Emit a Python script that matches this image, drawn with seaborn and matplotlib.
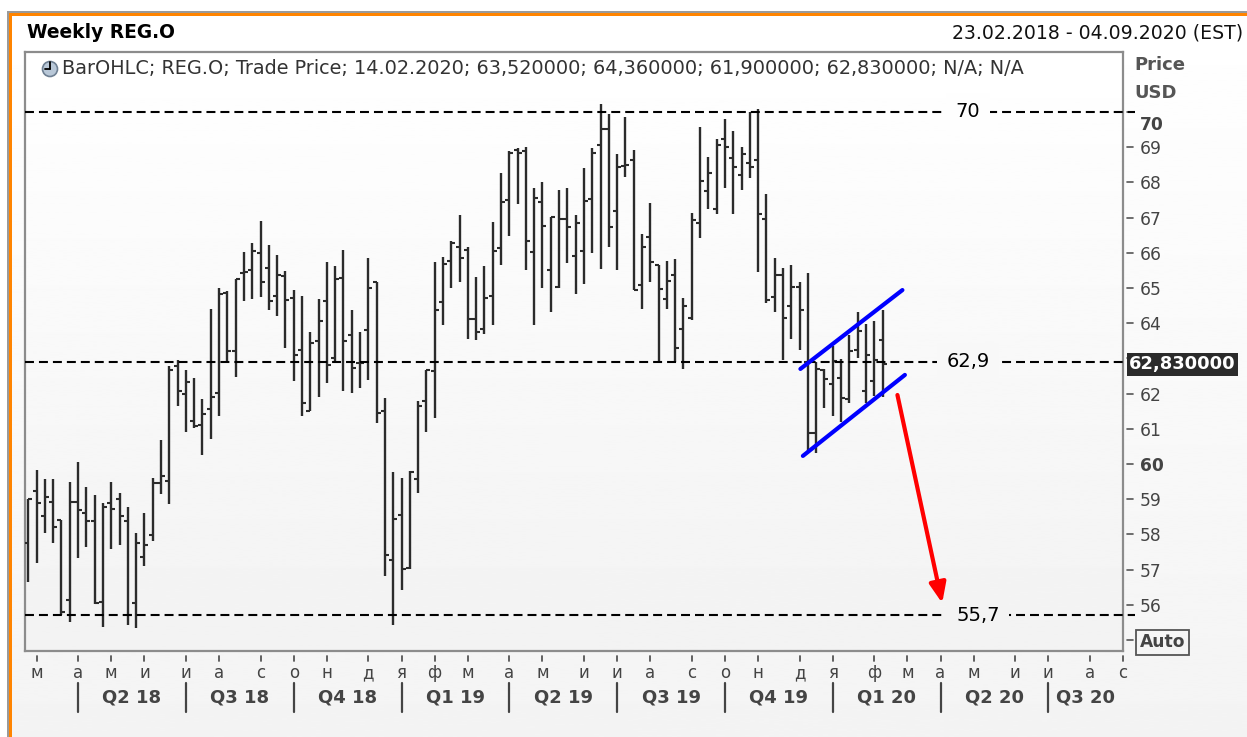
import numpy as np
import pandas as pd
import matplotlib
matplotlib.use("Agg")
import matplotlib.pyplot as plt
import matplotlib.transforms as mtransforms
from matplotlib.patches import Rectangle, Circle
from matplotlib.lines import Line2D
import seaborn as sns

# weekly OHLC for REG.O, 23.02.2018 .. 14.02.2020
start_date = "2018-02-23"
end_date = "2020-09-04"

opens = [57.77, 59.22, 58.51, 58.93, 58.41, 56.14, 58.93, 58.62, 58.39, 56.09,
         58.89, 59.00, 58.39, 56.04, 57.37, 57.99, 59.47, 59.53, 62.77, 61.99,
         61.21, 61.11, 61.56, 62.01, 64.87, 63.20, 65.42, 65.51, 65.99, 65.56,
         64.76, 65.34, 64.71, 63.24, 61.51, 63.49, 64.63, 63.00, 65.29, 63.65,
         62.87, 63.80, 65.18, 61.51, 57.28, 58.54, 57.06, 59.57, 61.80, 62.63,
         64.60, 65.77, 66.15, 66.08, 64.11, 63.82, 64.77, 66.12, 67.50, 68.91,
         68.88, 66.01, 67.45, 65.50, 65.02, 66.96, 65.92, 66.06, 67.52, 69.06,
         69.50, 67.18, 68.47, 68.64, 65.08, 66.46, 65.65, 64.69, 65.37, 63.82,
         64.14, 66.85, 67.74, 67.23, 69.22, 68.68, 68.21, 68.56, 68.64, 66.96,
         64.74, 65.37, 64.48, 65.02, 62.90, 60.88, 62.67, 62.26, 62.43, 61.85,
         63.23, 62.07, 62.36, 63.52]
highs = [59.00, 59.83, 59.57, 59.57, 58.41, 59.50, 60.07, 59.34, 59.12, 58.90,
         59.50, 59.17, 58.79, 58.05, 58.62, 59.60, 60.67, 62.77, 62.96, 62.67,
         62.44, 61.84, 64.40, 64.99, 64.92, 65.25, 66.01, 66.27, 66.91, 66.22,
         65.94, 65.47, 64.95, 64.78, 63.75, 64.68, 65.75, 65.63, 66.07, 64.36,
         63.75, 65.86, 65.18, 61.87, 59.76, 59.59, 59.81, 61.80, 62.68, 65.75,
         65.89, 66.33, 67.06, 66.15, 65.31, 65.63, 66.87, 68.26, 68.88, 68.96,
         69.01, 67.84, 68.00, 67.01, 67.79, 67.84, 67.06, 68.42, 68.96, 70.23,
         69.95, 68.81, 69.84, 68.92, 66.52, 67.42, 65.65, 65.77, 65.82, 64.71,
         67.13, 69.56, 68.73, 69.22, 69.81, 69.46, 69.01, 70.00, 70.09, 67.68,
         65.86, 65.58, 65.65, 65.16, 65.42, 62.90, 62.70, 63.35, 62.99, 63.67,
         64.31, 63.98, 64.05, 64.36]
lows = [56.66, 57.20, 58.03, 57.75, 55.71, 55.52, 57.32, 57.64, 56.03, 55.38,
        57.58, 57.70, 55.43, 55.33, 57.09, 57.82, 59.15, 58.87, 61.65, 60.92,
        61.02, 60.26, 60.70, 61.35, 62.88, 62.48, 64.64, 64.68, 64.74, 64.36,
        64.21, 63.29, 62.37, 61.35, 61.51, 61.90, 62.29, 62.87, 62.07, 62.03,
        62.16, 62.39, 61.17, 56.81, 55.43, 56.42, 57.03, 59.18, 60.90, 61.32,
        63.95, 64.99, 65.16, 63.56, 63.51, 63.68, 63.95, 65.65, 66.48, 67.38,
        65.50, 63.95, 64.99, 64.33, 64.99, 65.70, 64.82, 65.11, 65.99, 65.55,
        66.15, 65.52, 68.15, 64.95, 64.41, 65.18, 62.90, 64.41, 62.90, 62.70,
        64.08, 66.43, 67.23, 67.09, 67.84, 67.11, 67.77, 68.12, 65.46, 64.58,
        64.31, 62.95, 63.54, 63.23, 60.38, 60.32, 61.59, 61.35, 61.19, 61.73,
        63.02, 61.73, 61.94, 61.90]
closes = [59.00, 58.89, 59.06, 58.22, 55.81, 58.93, 58.68, 58.39, 56.04, 58.79,
          58.72, 58.51, 55.71, 57.77, 57.70, 59.45, 59.66, 62.66, 62.06, 62.34,
          61.08, 61.42, 61.90, 64.83, 63.20, 65.25, 65.44, 66.04, 65.18, 64.64,
          65.37, 64.66, 63.10, 61.73, 63.43, 64.07, 62.81, 65.26, 63.49, 62.73,
          62.87, 64.99, 61.46, 57.42, 58.45, 57.03, 59.76, 61.66, 62.68, 64.38,
          65.67, 66.28, 65.84, 64.11, 63.75, 64.72, 66.06, 67.45, 68.84, 68.84,
          66.33, 67.55, 66.77, 67.01, 66.96, 66.72, 66.84, 67.48, 68.84, 69.50,
          66.73, 68.43, 68.50, 64.95, 66.17, 65.75, 64.97, 65.21, 63.30, 64.48,
          66.93, 68.05, 68.26, 69.06, 68.99, 68.43, 68.81, 68.43, 67.09, 64.67,
          65.37, 64.14, 65.02, 64.36, 60.88, 62.71, 62.41, 62.92, 61.87, 63.20,
          63.77, 63.09, 62.95, 62.83]

levels = [70, 62.9, 55.7]
level_labels = ["70", "62,9", "55,7"]
level_label_x = [113.3, 113.3, 114.5]

month_letters = ["я", "ф", "м", "а", "м", "и", "и", "а", "с", "о", "н", "д"]
price_ticks = list(range(55, 71))
last_price = 62.83

# channel drawn on the chart (week index, price)
upper_x = [93.1, 105.4]
upper_y = [62.70, 64.94]
lower_x = [93.4, 105.7]
lower_y = [60.23, 62.53]
arrow_from = (104.8, 61.96)
arrow_to = (110.2, 56.05)

sns.set_theme(style="white")
plt.rcParams["font.family"] = ["DejaVu Sans"]

W, H = 1247, 737
fig = plt.figure(figsize=(W / 100, H / 100), dpi=100)


def px(x, y):
    return (x / 100, (H - y) / 100)


inch = fig.dpi_scale_trans

# page background + orange frame
bg = fig.add_axes([0, 0, 1, 1], zorder=-10)
bg.axis("off")
grad = np.linspace(1.0, 0.955, 256)[:, None]
bg.imshow(grad, extent=[0, 1, 0, 1], cmap="gray", vmin=0, vmax=1, aspect="auto")
fig.patches.append(Rectangle(px(0, 11), W / 100, 11 / 100, transform=inch, fc="white", ec="none", zorder=-5))
fig.patches.append(Rectangle(px(0, H), 7 / 100, H / 100, transform=inch, fc="white", ec="none", zorder=-5))
fig.patches.append(Rectangle(px(7, 13), (W - 7) / 100, 2 / 100, transform=inch, fc="#9a9a9a", ec="none", zorder=-4))
fig.patches.append(Rectangle(px(7, H), 2 / 100, (H - 11) / 100, transform=inch, fc="#9a9a9a", ec="none", zorder=-4))
fig.patches.append(Rectangle(px(9, 16), (W - 9) / 100, 3 / 100, transform=inch, fc="#ff8400", ec="none", zorder=-3))
fig.patches.append(Rectangle(px(9, H), 3 / 100, (H - 13) / 100, transform=inch, fc="#ff8400", ec="none", zorder=-3))

ax = fig.add_axes([25 / W, 1 - 651 / H, (1123 - 25) / W, (651 - 52) / H])
ax.set_facecolor("none")
ax.imshow(np.linspace(1.0, 0.95, 256)[:, None], extent=[0, 1, 0, 1], transform=ax.transAxes,
          cmap="gray", vmin=0, vmax=1, aspect="auto", zorder=0)
for s in ax.spines.values():
    s.set_color("#8c8c8c")
    s.set_linewidth(1.6)

# weekly axis
weeks = pd.date_range(start_date, end_date, freq="W-FRI")
idx = np.arange(len(opens))

bar_col = "#2b2b2b"
ax.vlines(idx, lows, highs, color=bar_col, lw=1.7, zorder=3)
ax.plot(idx, opens, ls="none", marker=0, ms=2.6, mew=1.5, color=bar_col, zorder=3)
ax.plot(idx, closes, ls="none", marker=1, ms=2.6, mew=1.5, color=bar_col, zorder=3)

ax.set_xlim(-0.4, len(weeks) - 1)
ax.set_ylim(54.69, 71.70)

# horizontal levels
xmax_ext = len(weeks) - 1 + 1.5
for lv, lab, lx in zip(levels, level_labels, level_label_x):
    ax.plot([-0.4, xmax_ext], [lv, lv], color="black", lw=1.5, ls=(0, (4.3, 2.4)),
            clip_on=False, zorder=4)
    shade = 1.0 - 0.05 * (71.7 - lv) / 17.0
    ax.text(lx, lv, lab, ha="center", va="center", fontsize=14, color="black", zorder=5,
            bbox=dict(boxstyle="square,pad=0.5", fc=(shade, shade, shade), ec="none"))

# channel + arrow
ax.plot(upper_x, upper_y, color="#0000ff", lw=3, solid_capstyle="round", zorder=6)
ax.plot(lower_x, lower_y, color="#0000ff", lw=3, solid_capstyle="round", zorder=6)
ax.annotate("", xy=arrow_to, xytext=arrow_from,
            arrowprops=dict(arrowstyle="-|>,head_length=0.6,head_width=0.25", color="#ff0000",
                            lw=3, shrinkA=0, shrinkB=0, mutation_scale=20), zorder=6)

# right price axis (tick marks drawn detached from the frame)
ax.yaxis.tick_right()
ax.set_yticks(price_ticks)
ylabels = []
for p in price_ticks:
    if p == 55:
        ylabels.append("Auto")
    elif p == 63:
        ylabels.append("")
    else:
        ylabels.append(str(p))
ax.set_yticklabels(ylabels)
ax.tick_params(axis="y", right=True, length=0, pad=12, labelsize=12.3, labelcolor="#444444")
yx = mtransforms.blended_transform_factory(ax.transAxes, ax.transData)
ax_w = 1098
for p in price_ticks:
    ax.add_line(Line2D([1 + 4 / ax_w, 1 + 10 / ax_w], [p, p], transform=yx, color="#555555",
                       lw=1.2, clip_on=False))
for t, p in zip(ax.get_yticklabels(), price_ticks):
    if p in (55, 60, 70):
        t.set_fontweight("bold")
    if p == 55:
        t.set_bbox(dict(boxstyle="square,pad=0.2", fc="none", ec="#555555", lw=1.3))
    if p == 70:
        t.set_transform(t.get_transform() + mtransforms.ScaledTranslation(0, -0.11, inch))

ax.text(1.0, last_price, "62,830000", transform=yx + mtransforms.ScaledTranslation(0.06, 0, inch),
        ha="left", va="center", color="white", fontsize=12.9, fontweight="bold", zorder=7,
        clip_on=False, bbox=dict(boxstyle="square,pad=0.12", fc="#2b2b2b", ec="none"))

# month ticks and quarter row
ax.set_xticks([])
ax.tick_params(axis="x", bottom=False)
xb = mtransforms.blended_transform_factory(ax.transData, ax.transAxes)
month_pos = [i for i in range(1, len(weeks)) if weeks[i].month != weeks[i - 1].month]
for i in month_pos:
    ax.add_line(Line2D([i, i], [-0.008, -0.016], transform=xb, color="#555555", lw=1.3, clip_on=False))
    ax.text(i, -0.037, month_letters[weeks[i].month - 1], transform=xb, ha="center", va="center",
            fontsize=12, color="#444444")

q_pos = [i for i in month_pos if weeks[i].month in (1, 4, 7, 10)]
q_ends = q_pos[1:] + [len(weeks) - 1]
for a, b in zip(q_pos, q_ends):
    ax.add_line(Line2D([a, a], [-0.053, -0.102], transform=xb, color="#444444", lw=1.6, clip_on=False))
    q = (weeks[a].month - 1) // 3 + 1
    ax.text((a + b) / 2, -0.077, f"Q{q} {weeks[a].year % 100:02d}", transform=xb, ha="center",
            va="center", fontsize=13, fontweight="bold", color="#444444")

# header texts
fig.text(*px(27, 33), "Weekly REG.O", transform=inch, ha="left", va="center", fontsize=13.4,
         fontweight="bold", color="black")
fig.text(*px(1243, 33), "23.02.2018 - 04.09.2020 (EST)", transform=inch, ha="right", va="center",
         fontsize=13.6, color="#111111")
fig.text(*px(1134, 65), "Price", transform=inch, ha="left", va="center", fontsize=13,
         fontweight="bold", color="#555555")
fig.text(*px(1134, 93), "USD", transform=inch, ha="left", va="center", fontsize=13,
         fontweight="bold", color="#555555")

# series legend line with clock icon
fig.patches.append(Circle(px(50, 69), 0.075, transform=inch, fc="#b9c8d8", ec="#6f8093", lw=1.2, zorder=8))
fig.lines.append(Line2D([0.50, 0.50], [(H - 69) / 100, (H - 62) / 100], transform=inch, color="black", lw=1.3, zorder=9))
fig.lines.append(Line2D([0.50, 0.445], [(H - 69) / 100, (H - 69) / 100], transform=inch, color="black", lw=1.3, zorder=9))
fig.text(*px(62, 69), "BarOHLC; REG.O; Trade Price; 14.02.2020; 63,520000; 64,360000; 61,900000; 62,830000; N/A; N/A",
         transform=inch, ha="left", va="center", fontsize=13.9, color="#333333")

fig.savefig("out.png", dpi=100)
